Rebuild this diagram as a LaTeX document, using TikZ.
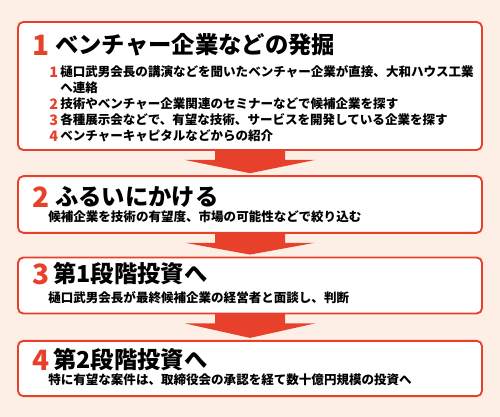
\documentclass[tikz,border=0pt]{standalone}
\usepackage{fontspec}
\usetikzlibrary{calc}
\newfontfamily\jpfont{Noto Sans CJK JP}
\definecolor{flowred}{HTML}{E8412B}
\definecolor{bgpeach}{HTML}{FDEEE6}

\begin{document}
\begin{tikzpicture}[x=0.75pt, y=-0.75pt,
		stage/.style={draw=flowred, line width=1.4pt, fill=white, rounded corners=4pt, minimum width=348pt, inner sep=0pt},
		num/.style={anchor=west, inner sep=0pt, text=flowred, font=\jpfont\bfseries\fontsize{21}{24}\selectfont},
		title/.style={anchor=west, inner sep=0pt, font=\jpfont\bfseries\fontsize{17.5}{20}\selectfont},
		sub/.style={anchor=west, inner sep=0pt, font=\jpfont\bfseries\fontsize{9.4}{11}\selectfont},
		subnum/.style={anchor=west, inner sep=0pt, text=flowred, font=\jpfont\bfseries\fontsize{10.8}{12}\selectfont}]
		\fill[bgpeach] (0,0) rectangle (500,417);
		\useasboundingbox (0,0) rectangle (500,417);
		\node[stage, minimum height=96pt] (s1) at (250,86) {};
		\node[stage, minimum height=42.5pt] (s2) at (250,204.5) {};
		\node[stage, minimum height=42pt] (s3) at (250,285.5) {};
		\node[stage, minimum height=41.5pt] (s4) at (250,368.5) {};
		\fill[flowred] ($(s1.south)+(-35,-1)$) -- ($(s1.south)+(-35,9)$) -- ($(s1.south)+(-65,9)$) -- ($(s2.north)+(0,-2)$) -- ($(s1.south)+(65,9)$) -- ($(s1.south)+(35,9)$) -- ($(s1.south)+(35,-1)$) -- cycle;
		\fill[flowred] ($(s2.south)+(-35,-1)$) -- ($(s2.south)+(-35,9)$) -- ($(s2.south)+(-65,9)$) -- ($(s3.north)+(0,-2)$) -- ($(s2.south)+(65,9)$) -- ($(s2.south)+(35,9)$) -- ($(s2.south)+(35,-1)$) -- cycle;
		\fill[flowred] ($(s3.south)+(-35,-1)$) -- ($(s3.south)+(-35,9)$) -- ($(s3.south)+(-65,9)$) -- ($(s4.north)+(0,-2)$) -- ($(s3.south)+(65,9)$) -- ($(s3.south)+(35,9)$) -- ($(s3.south)+(35,-1)$) -- cycle;
		\node[num] (n1) at (32,45) {1};
		\node[title] (t1) at (55,45) {ベンチャー企業などの発掘};
		\node[subnum] (l1n) at (49,72) {1};
		\node[sub] (l1) at (60,72) {樋口武男会長の講演などを聞いたベンチャー企業が直接、大和ハウス工業};
		\node[sub] (l1b) at (60,88) {へ連絡};
		\node[subnum] (l2n) at (49,104) {2};
		\node[sub] (l2) at (60,104) {技術やベンチャー企業関連のセミナーなどで候補企業を探す};
		\node[subnum] (l3n) at (49,120) {3};
		\node[sub] (l3) at (60,120) {各種展示会などで、有望な技術、サービスを開発している企業を探す};
		\node[subnum] (l4n) at (49,136) {4};
		\node[sub] (l4) at (60,136) {ベンチャーキャピタルなどからの紹介};
		\node[num] (n2) at (32,197) {2};
		\node[title] (t2) at (55,197) {ふるいにかける};
		\node[sub] (d2) at (48,217) {候補企業を技術の有望度、市場の可能性などで絞り込む};
		\node[num] (n3) at (32,274) {3};
		\node[title] (t3) at (53,274) {第1段階投資へ};
		\node[sub] (d3) at (48,298) {樋口武男会長が最終候補企業の経営者と面談し、判断};
		\node[num] (n4) at (32,360) {4};
		\node[title] (t4) at (53,360) {第2段階投資へ};
		\node[sub] (d4) at (48,380) {特に有望な案件は、取締役会の承認を経て数十億円規模の投資へ};
	\end{tikzpicture}
\end{document}
